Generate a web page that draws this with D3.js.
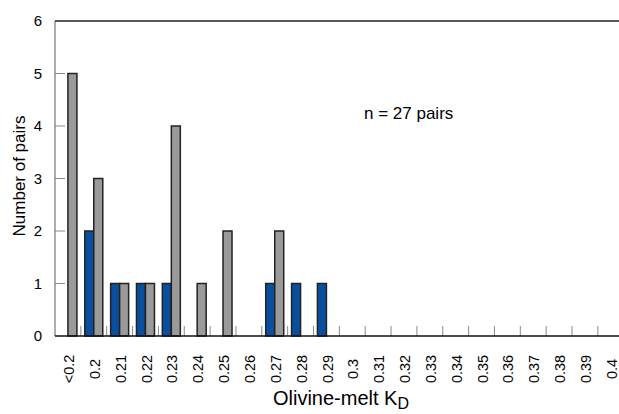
<!DOCTYPE html>
<html>
<head>
<meta charset="utf-8">
<script src="https://cdn.jsdelivr.net/npm/d3@7"></script>
<style>
  html, body { margin: 0; padding: 0; background: #fff; }
  svg { display: block; font-family: "Liberation Sans", Arial, sans-serif; }
</style>
</head>
<body>
<div id="chart"></div>
<script>
// Dados do histograma
const categories = ['<0.2', '0.2', '0.21', '0.22', '0.23', '0.24', '0.25', '0.26', '0.27', '0.28', '0.29',
  '0.3', '0.31', '0.32', '0.33', '0.34', '0.35', '0.36', '0.37', '0.38', '0.39', '0.4'];
const blueCounts = [0, 2, 1, 1, 1, 0, 0, 0, 1, 1, 1, 0, 0, 0, 0, 0, 0, 0, 0, 0, 0, 0];
const grayCounts = [5, 3, 1, 1, 4, 1, 2, 0, 2, 0, 0, 0, 0, 0, 0, 0, 0, 0, 0, 0, 0, 0];
const yTicks = [0, 1, 2, 3, 4, 5, 6];
const seriesNames = ['blue', 'gray'];
const seriesColors = { blue: '#0a4f9e', gray: '#9a9a9a' };

const width = 619, height = 414;
const margin = { left: 55, top: 21, bottom: 78 };
const bandW = 25.85;

const svg = d3.select('#chart').append('svg')
  .attr('width', width)
  .attr('height', height);

const x = d3.scaleBand()
  .domain(categories)
  .range([margin.left, margin.left + categories.length * bandW])
  .padding(0);

const xInner = d3.scaleBand()
  .domain(seriesNames)
  .range([(bandW - 18) / 2, (bandW + 18) / 2])
  .padding(0);

const y = d3.scaleLinear()
  .domain([0, 6])
  .range([height - margin.bottom, margin.top]);

const plotRight = x.range()[1];

// Ticks internos do eixo y
svg.append('g')
  .selectAll('line')
  .data(yTicks.filter(d => d > 0 && d < 6))
  .join('line')
  .attr('x1', margin.left).attr('x2', margin.left + 10)
  .attr('y1', d => y(d)).attr('y2', d => y(d))
  .attr('stroke', '#8a8a8a').attr('stroke-width', 1);

// Rótulos do eixo y
svg.append('g')
  .selectAll('text')
  .data(yTicks)
  .join('text')
  .attr('x', 42)
  .attr('y', d => y(d))
  .attr('dy', '0.36em')
  .attr('text-anchor', 'end')
  .style('font-size', '15px')
  .text(d => d);

// Barras
const rows = [];
categories.forEach((c, i) => {
  rows.push({ cat: c, s: 'blue', v: blueCounts[i] });
  rows.push({ cat: c, s: 'gray', v: grayCounts[i] });
});

svg.append('g')
  .selectAll('rect')
  .data(rows.filter(d => d.v > 0))
  .join('rect')
  .attr('x', d => x(d.cat) + xInner(d.s))
  .attr('y', d => y(d.v))
  .attr('width', xInner.bandwidth())
  .attr('height', d => y(0) - y(d.v))
  .attr('fill', d => seriesColors[d.s])
  .attr('stroke', '#222')
  .attr('stroke-width', 1.5);

// Ticks entre categorias
svg.append('g')
  .selectAll('line')
  .data(categories.slice(1))
  .join('line')
  .attr('x1', d => x(d)).attr('x2', d => x(d))
  .attr('y1', y(0)).attr('y2', y(0) - 10)
  .attr('stroke', '#8a8a8a').attr('stroke-width', 1);

// Eixos e moldura
svg.append('line')
  .attr('x1', margin.left).attr('x2', margin.left)
  .attr('y1', y(6)).attr('y2', y(0))
  .attr('stroke', '#777').attr('stroke-width', 1.2);
svg.append('line')
  .attr('x1', margin.left).attr('x2', plotRight)
  .attr('y1', y(6)).attr('y2', y(6))
  .attr('stroke', '#222').attr('stroke-width', 1.5);
svg.append('line')
  .attr('x1', margin.left).attr('x2', plotRight)
  .attr('y1', y(0)).attr('y2', y(0))
  .attr('stroke', '#111').attr('stroke-width', 1.5);

// Rótulos do eixo x (rotacionados)
svg.append('g')
  .selectAll('text')
  .data(categories)
  .join('text')
  .attr('transform', d => `translate(${x(d) + bandW / 2 + 1},369) rotate(-90)`)
  .attr('text-anchor', 'middle')
  .attr('dy', '0.35em')
  .style('font-size', '14.5px')
  .text(d => d);

// Títulos
svg.append('text')
  .attr('transform', 'translate(19,176) rotate(-90)')
  .attr('text-anchor', 'middle')
  .attr('dy', '0.35em')
  .style('font-size', '17px')
  .text('Number of pairs');

const xt = svg.append('text')
  .attr('x', 341)
  .attr('y', 405)
  .attr('text-anchor', 'middle')
  .style('font-size', '20px');
xt.append('tspan').text('Olivine-melt K');
xt.append('tspan').attr('dy', 4).style('font-size', '16px').text('D');

svg.append('text')
  .attr('x', 364)
  .attr('y', 119)
  .style('font-size', '17px')
  .text('n = 27 pairs');
</script>
</body>
</html>
